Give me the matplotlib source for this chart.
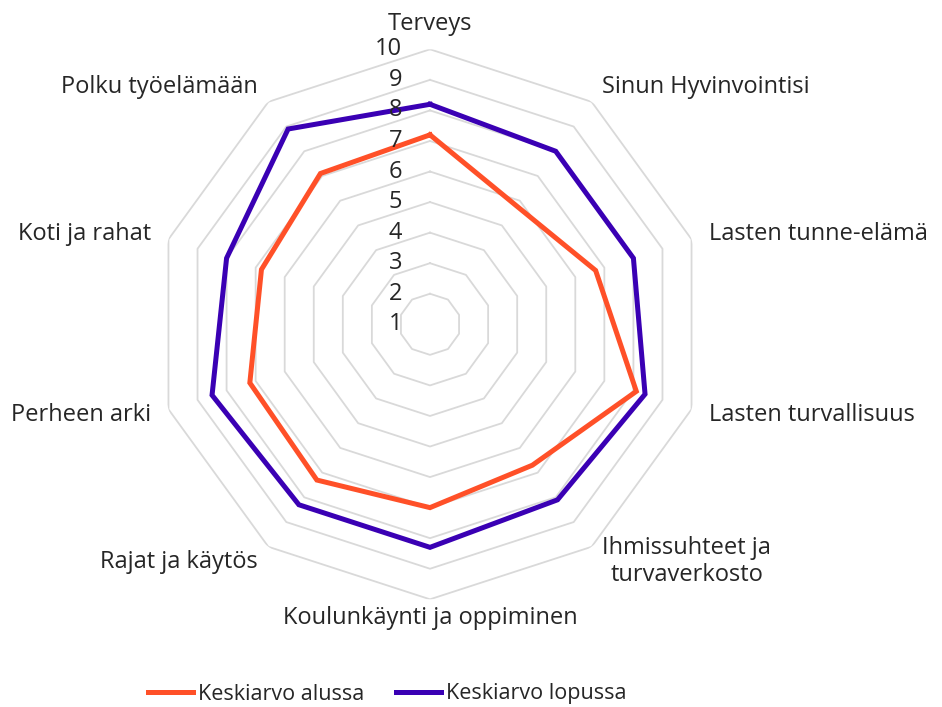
import numpy as np
import matplotlib
matplotlib.use("Agg")
import matplotlib.pyplot as plt

# Data
categories = ["Terveys", "Sinun Hyvinvointisi", "Lasten tunne-elämä",
              "Lasten turvallisuus", "Ihmissuhteet ja\nturvaverkosto",
              "Koulunkäynti ja oppiminen", "Rajat ja käytös", "Perheen arki",
              "Koti ja rahat", "Polku työelämään"]
alussa = [7.2, 5.8, 6.7, 8.1, 6.7, 7.0, 7.3, 7.2, 6.8, 7.1]
lopussa = [8.2, 8.0, 8.0, 8.4, 8.1, 8.3, 8.3, 8.5, 8.0, 8.9]
ring_values = list(range(1, 11))

plt.rcParams['font.family'] = ['Open Sans', 'DejaVu Sans']
text_color = "#262626"
grid_color = "#d9d9d9"
c_alussa = "#ff5028"
c_lopussa = "#3a00b4"
fs = 17

fig = plt.figure(figsize=(9.42, 7.07), dpi=100)
ax = fig.add_axes([155 / 942, 1 - 599.3 / 707, 550 / 942, 550 / 707], polar=True)
ax.set_theta_zero_location('N')
ax.set_theta_direction(-1)
ax.set_ylim(1, 10)
ax.grid(False)
ax.spines['polar'].set_visible(False)
ax.set_xticks([])
ax.set_yticks([])
ax.patch.set_alpha(0)

n = len(categories)
angles = np.arange(n) * 2 * np.pi / n
closed = np.append(angles, angles[0])

# polygon rings
for v in ring_values[1:]:
    ax.plot(closed, [v] * (n + 1), color=grid_color, lw=1.3, zorder=1)

# series
ax.plot(closed, alussa + alussa[:1], color=c_alussa, lw=3.6, zorder=3,
        solid_joinstyle='miter', label="Keskiarvo alussa")
ax.plot(closed, lopussa + lopussa[:1], color=c_lopussa, lw=3.6, zorder=3,
        solid_joinstyle='miter', label="Keskiarvo lopussa")

# value labels
for v in ring_values:
    ax.annotate(str(v), xy=(0, v), xytext=(-20, 0), textcoords='offset points',
                ha='right', va='center', fontsize=fs, color=text_color, zorder=4)

# category labels
for ang, lab in zip(angles, categories):
    deg = np.degrees(ang)
    if np.isclose(deg, 0) or np.isclose(deg, 180):
        ha = 'center'
    elif deg < 180:
        ha = 'left'
    else:
        ha = 'right'
    va = 'bottom' if np.isclose(deg, 0) else 'center'
    r = 10.45 if np.isclose(deg, 0) else 10.6
    ax.text(ang, r, lab, ha=ha, va=va, fontsize=fs, color=text_color,
            multialignment='center', linespacing=1.15)

leg = fig.legend(loc='center left', bbox_to_anchor=(148 / 942, 1 - 694 / 707),
                 ncol=2, frameon=False, fontsize=15.5, handlelength=2.1,
                 handletextpad=0.2, columnspacing=1.5, labelcolor=text_color,
                 borderaxespad=0, borderpad=0)

fig.savefig("out.png", dpi=100)
